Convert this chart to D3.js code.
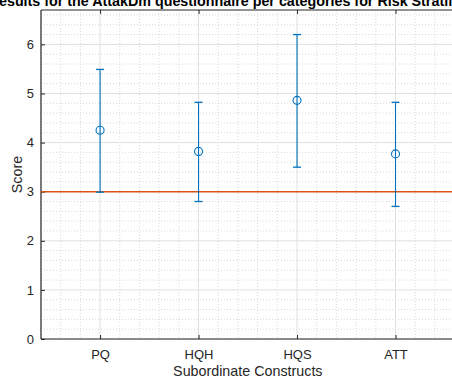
<!DOCTYPE html>
<html><head><meta charset="utf-8">
<script src="https://cdn.jsdelivr.net/npm/d3@7"></script>
<style>html,body{margin:0;padding:0;background:#fff;overflow:hidden}svg{display:block}</style>
</head><body>
<svg id="c" width="452" height="381"></svg>
<script>
const categories = ["PQ", "HQH", "HQS", "ATT"];
const means = [4.25, 3.82, 4.86, 3.77];
const upper = [5.49, 4.82, 6.20, 4.82];
const lower = [2.99, 2.80, 3.50, 2.70];
const refValue = 3;
const yTicks = [0, 1, 2, 3, 4, 5, 6];
const titleText = "Results for the AttakDm questionnaire per categories for Risk Stratification";
const xLabel = "Subordinate Constructs";
const yLabel = "Score";

const svg = d3.select("#c");
const L = 41, T = 10, R = 454.6, B = 339;
const x = d3.scaleLinear().domain([0.4, 4.6]).range([L, R]);
const y = d3.scaleLinear().domain([0, 6.7]).range([B, T]);
const font = "'Liberation Sans', Arial, Helvetica, sans-serif";
const txt = "#262626";

const g = svg.append("g");
// minor grid
const minorX = d3.range(0.4, 4.6001, 0.2).filter(v => Math.abs(v - Math.round(v)) > 1e-6);
const minorY = d3.range(0, 6.7001, 0.2).filter(v => Math.abs(v - Math.round(v)) > 1e-6);
g.selectAll(".mx").data(minorX).join("line")
  .attr("x1", d => x(d)).attr("x2", d => x(d)).attr("y1", T).attr("y2", B)
  .attr("stroke", "#bdbdbd").attr("stroke-width", 0.6).attr("stroke-dasharray", "1,2");
g.selectAll(".my").data(minorY).join("line")
  .attr("x1", L).attr("x2", R).attr("y1", d => y(d)).attr("y2", d => y(d))
  .attr("stroke", "#bdbdbd").attr("stroke-width", 0.6).attr("stroke-dasharray", "1,2");
// major grid
g.selectAll(".gx").data(d3.range(1, categories.length + 1)).join("line")
  .attr("x1", d => x(d)).attr("x2", d => x(d)).attr("y1", T).attr("y2", B)
  .attr("stroke", "#e0e0e0").attr("stroke-width", 1);
g.selectAll(".gy").data(yTicks).join("line")
  .attr("x1", L).attr("x2", R).attr("y1", d => y(d)).attr("y2", d => y(d))
  .attr("stroke", "#e0e0e0").attr("stroke-width", 1);

// axes
const xAxisB = d3.axisBottom(x).tickValues(d3.range(1, 5)).tickFormat((d, i) => categories[i]).tickSizeInner(-4).tickSizeOuter(0).tickPadding(11);
const gxB = svg.append("g").attr("transform", `translate(0,${B})`).call(xAxisB);
const xAxisT = d3.axisTop(x).tickValues(d3.range(1, 5)).tickFormat("").tickSizeInner(-4).tickSizeOuter(0);
const gxT = svg.append("g").attr("transform", `translate(0,${T})`).call(xAxisT);
const yAxis = d3.axisLeft(y).tickValues(yTicks).tickFormat(d3.format("d")).tickSizeInner(-4).tickSizeOuter(0).tickPadding(7);
const gy = svg.append("g").attr("transform", `translate(${L},0)`).call(yAxis);
[gxB, gxT, gy].forEach(a => {
  a.selectAll("path.domain").attr("stroke", txt).attr("stroke-width", 1.2);
  a.selectAll(".tick line").attr("stroke", txt).attr("stroke-width", 1);
  a.selectAll(".tick text").attr("fill", txt).attr("font-family", font).attr("font-size", 13);
});
gxB.select("path.domain").attr("d", `M${L},0H${R}`);
gxT.select("path.domain").attr("d", `M${L},0H${R}`);
gy.select("path.domain").attr("d", `M0,${B}V${T}`);

// reference line
svg.append("line").attr("x1", L).attr("x2", R).attr("y1", y(refValue)).attr("y2", y(refValue))
  .attr("stroke", "#D95319").attr("stroke-width", 1.5);

// error bars
const eb = svg.append("g");
const blue = "#0072BD";
const idx = d3.range(categories.length);
eb.selectAll(".v").data(idx).join("line")
  .attr("x1", i => x(i + 1)).attr("x2", i => x(i + 1))
  .attr("y1", i => y(lower[i])).attr("y2", i => y(upper[i]))
  .attr("stroke", blue).attr("stroke-width", 1.1);
eb.selectAll(".cu").data(idx).join("line")
  .attr("x1", i => x(i + 1) - 4).attr("x2", i => x(i + 1) + 4)
  .attr("y1", i => y(upper[i])).attr("y2", i => y(upper[i]))
  .attr("stroke", blue).attr("stroke-width", 1.3);
eb.selectAll(".cl").data(idx).join("line")
  .attr("x1", i => x(i + 1) - 4).attr("x2", i => x(i + 1) + 4)
  .attr("y1", i => y(lower[i])).attr("y2", i => y(lower[i]))
  .attr("stroke", blue).attr("stroke-width", 1.3);
eb.selectAll("circle").data(idx).join("circle")
  .attr("cx", i => x(i + 1)).attr("cy", i => y(means[i])).attr("r", 4)
  .attr("fill", "none").attr("stroke", blue).attr("stroke-width", 1.1);

// labels
svg.append("text").attr("x", (L + R) / 2).attr("y", 376).attr("text-anchor", "middle")
  .attr("font-family", font).attr("font-size", 14.3).attr("fill", txt).text(xLabel);
svg.append("text").attr("transform", `translate(21.5,${(T + B) / 2}) rotate(-90)`).attr("text-anchor", "middle")
  .attr("font-family", font).attr("font-size", 14.3).attr("fill", txt).text(yLabel);
svg.append("text").attr("x", (L + R) / 2 - 4).attr("y", 6).attr("text-anchor", "middle")
  .attr("font-family", font).attr("font-size", 14.3).attr("font-weight", "bold").attr("fill", "#000").text(titleText);
</script>
</body></html>
